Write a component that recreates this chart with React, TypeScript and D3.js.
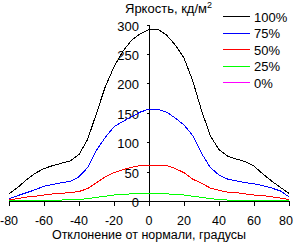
import React from "react";
import * as d3 from "d3";

// Viewing angle, degrees
const angles = [
  -80, -75, -70, -65, -60, -55, -50, -45, -40, -35, -30, -25, -20, -15, -10, -5, 0,
  5, 10, 15, 20, 25, 30, 35, 40, 45, 50, 55, 60, 65, 70, 75, 80,
];

// Luminance, cd/m², per brightness setting
const lum100 = [
  13, 24, 37, 48, 56, 61, 65, 69, 80, 106, 150, 195, 229, 255, 274, 285, 292,
  293, 283, 266, 244, 205, 155, 112, 88, 77, 72, 68, 60, 47, 35, 24, 14,
];
const lum75 = [
  5, 10, 15, 20, 26, 29, 32, 34, 42, 58, 87, 109, 127, 136, 144, 152, 157,
  157, 152, 142, 130, 112, 82, 58, 45, 38, 35, 32, 30, 27, 23, 18, 8,
];
const lum50 = [
  2.5, 5, 7.5, 9, 11, 13, 14, 15, 17, 22, 32, 42, 49, 54, 58, 61, 62,
  62, 61, 56, 49, 38, 31, 23, 19, 16, 15, 13, 11, 10, 8, 6, 3.5,
];
const lum25 = [
  1, 1.5, 1.5, 2, 2, 2.5, 2.5, 3, 3, 5, 7, 9, 11, 12, 13, 14, 14,
  14, 13, 12, 11, 9, 7, 5, 3, 2.5, 2.5, 2, 2, 2, 1.5, 1.5, 1.5,
];
const lum0 = [
  0, 0, 0, 0, 0, 0, 0, 0, 0, 0, 0, 0, 0, 0, 0, 0, 0,
  0, 0, 0, 0, 0, 0, 0, 0, 0, 0, 0, 0, 0, 0, 0, 0,
];

const seriesNames = ["100%", "75%", "50%", "25%", "0%"];
const seriesColors = ["#000000", "#0000ff", "#ff0000", "#00ff00", "#ff00ff"];
const seriesValues = [lum100, lum75, lum50, lum25, lum0];

const xTicks = [-80, -60, -40, -20, 0, 20, 40, 60, 80];
const yTicks = [0, 50, 100, 150, 200, 250, 300];

const W = 294;
const H = 242;
const FONT = "'Liberation Sans', Arial, sans-serif";

export default function App() {
  const x = d3.scaleLinear().domain([-80, 80]).range([9, 289]);
  const y = d3.scaleLinear().domain([0, 300]).range([201.5, 25]);
  const axisX = Math.round(x(0)) + 0.5;
  const baseY = Math.floor(y(0)) + 0.5;

  const line = d3
    .line<number>()
    .x((_, i) => x(angles[i]))
    .y((v) => y(v));

  const curve = (i: number) => (
    <path
      key={seriesNames[i]}
      d={line(seriesValues[i]) ?? ""}
      fill="none"
      stroke={seriesColors[i]}
      strokeWidth={1}
      shapeRendering="crispEdges"
    />
  );

  return (
    <svg
      width={W}
      height={H}
      style={{ position: "absolute", left: 0, top: 0, background: "#fff" }}
      fontFamily={FONT}
      fontSize={13}
    >
      <rect width={W} height={H} fill="#fff" />

      {/* the 0% curve lies on the baseline, underneath the axis */}
      {curve(4)}

      {/* y axis */}
      <line x1={axisX} x2={axisX} y1={Math.round(y(300))} y2={206} stroke="#000" shapeRendering="crispEdges" />
      {yTicks.map((t) => (
        <g key={t}>
          <line
            x1={axisX - 3}
            x2={axisX}
            y1={Math.floor(y(t)) + 0.5}
            y2={Math.floor(y(t)) + 0.5}
            stroke="#000"
            shapeRendering="crispEdges"
          />
          <text x={139} y={y(t) + 5.5} textAnchor="end" fill="#000">
            {t}
          </text>
        </g>
      ))}

      {/* x axis */}
      <line x1={x(-80)} x2={x(80) + 1} y1={baseY} y2={baseY} stroke="#000" shapeRendering="crispEdges" />
      {xTicks.map((t, k) => {
        const last = k === xTicks.length - 1;
        return (
          <g key={t}>
            <line
              x1={Math.round(x(t)) + 0.5}
              x2={Math.round(x(t)) + 0.5}
              y1={baseY}
              y2={baseY + 4}
              stroke="#000"
              shapeRendering="crispEdges"
            />
            <text
              x={last ? W - 1 : x(t)}
              y={224.5}
              fontSize={12.5}
              textAnchor={last ? "end" : "middle"}
              fill="#000"
            >
              {t}
            </text>
          </g>
        );
      })}

      {/* remaining curves, lower settings underneath */}
      {[3, 2, 1, 0].map((i) => curve(i))}

      {/* titles */}
      <text x={125} y={13} fill="#000">
        Яркость, кд/м
        <tspan fontSize={9} dy={-5}>
          2
        </tspan>
      </text>
      <text x={149} y={239} fontSize={12.5} textAnchor="middle" fill="#000">
        Отклонение от нормали, градусы
      </text>

      {/* legend */}
      {seriesNames.map((name, i) => {
        const ly = 16.5 + i * 16.5;
        return (
          <g key={name}>
            <line
              x1={223}
              x2={250}
              y1={Math.floor(ly) + 0.5}
              y2={Math.floor(ly) + 0.5}
              stroke={seriesColors[i]}
              shapeRendering="crispEdges"
            />
            <text x={254} y={ly + 5} fill="#000">
              {name}
            </text>
          </g>
        );
      })}
    </svg>
  );
}
